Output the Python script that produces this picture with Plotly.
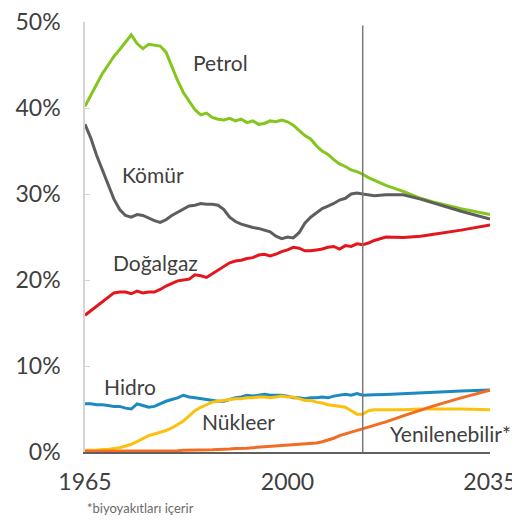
import plotly.graph_objects as go

years = list(range(1965, 2014)) + [2014, 2015, 2017, 2020, 2023, 2025, 2030, 2035]

petrol = [40.2, 41.5, 42.8, 44.0, 45.0, 46.0, 46.8, 47.6, 48.5, 47.5,
          46.9, 47.4, 47.3, 47.2, 46.5, 44.8, 43.2, 41.8, 40.8, 39.8,
          39.2, 39.4, 38.9, 38.7, 38.6, 38.8, 38.5, 38.7, 38.3, 38.5,
          38.1, 38.2, 38.5, 38.4, 38.6, 38.4, 38.0, 37.4, 36.8, 36.4,
          35.6, 35.0, 34.6, 34.0, 33.5, 33.2, 32.8, 32.6, 32.3,
          31.9, 31.6, 31.0, 30.3, 29.5, 29.1, 28.3, 27.6]

komur = [38.1, 36.5, 34.5, 32.8, 31.0, 29.4, 28.2, 27.5, 27.3, 27.6,
         27.5, 27.2, 26.9, 26.7, 27.0, 27.5, 27.9, 28.3, 28.6, 28.7,
         28.9, 28.8, 28.8, 28.7, 28.2, 27.3, 26.8, 26.5, 26.3, 26.1,
         26.0, 25.8, 25.6, 25.1, 24.8, 25.0, 24.9, 25.5, 26.6, 27.3,
         27.8, 28.3, 28.6, 28.9, 29.3, 29.5, 30.0, 30.1, 30.0,
         29.9, 29.8, 29.9, 29.9, 29.4, 29.0, 28.0, 27.1]

dogalgaz = [15.9, 16.4, 17.0, 17.5, 18.0, 18.5, 18.6, 18.6, 18.4, 18.7,
            18.5, 18.6, 18.6, 18.9, 19.3, 19.6, 19.9, 20.0, 20.1, 20.6,
            20.5, 20.3, 20.7, 21.2, 21.6, 22.0, 22.2, 22.3, 22.5, 22.6,
            22.9, 23.0, 22.8, 23.0, 23.3, 23.5, 23.8, 23.7, 23.4, 23.4,
            23.5, 23.6, 23.8, 23.9, 23.6, 24.0, 23.9, 24.2, 24.1,
            24.3, 24.6, 25.0, 24.95, 25.1, 25.3, 25.8, 26.4]

hidro = [5.6, 5.6, 5.5, 5.5, 5.4, 5.3, 5.3, 5.1, 5.0, 5.6,
         5.4, 5.2, 5.3, 5.6, 5.9, 6.1, 6.3, 6.6, 6.4, 6.3,
         6.2, 6.1, 6.0, 5.9, 5.9, 6.1, 6.3, 6.4, 6.6, 6.5,
         6.6, 6.7, 6.6, 6.6, 6.6, 6.5, 6.3, 6.3, 6.2, 6.3,
         6.3, 6.4, 6.3, 6.5, 6.6, 6.7, 6.6, 6.8, 6.6,
         6.6, 6.65, 6.7, 6.8, 6.9, 6.95, 7.1, 7.2]

nukleer = [0.2, 0.2, 0.2, 0.3, 0.3, 0.4, 0.5, 0.7, 0.9, 1.2,
           1.6, 1.9, 2.1, 2.3, 2.5, 2.8, 3.2, 3.6, 4.2, 4.8,
           5.2, 5.5, 5.8, 5.9, 6.0, 6.1, 6.2, 6.2, 6.3, 6.3,
           6.4, 6.4, 6.3, 6.4, 6.5, 6.4, 6.4, 6.2, 6.0, 6.0,
           5.8, 5.7, 5.5, 5.4, 5.3, 5.2, 4.8, 4.4, 4.4,
           4.8, 4.9, 4.9, 4.9, 5.0, 5.0, 5.0, 4.9]

yenilenebilir = [0.1, 0.1, 0.1, 0.1, 0.1, 0.1, 0.1, 0.1, 0.1, 0.1,
                 0.1, 0.1, 0.1, 0.1, 0.1, 0.15, 0.15, 0.2, 0.2, 0.2,
                 0.2, 0.2, 0.25, 0.3, 0.3, 0.35, 0.4, 0.4, 0.45, 0.5,
                 0.55, 0.6, 0.6, 0.65, 0.7, 0.75, 0.8, 0.85, 0.9, 0.95,
                 1.05, 1.2, 1.4, 1.6, 1.9, 2.1, 2.3, 2.5, 2.7,
                 2.9, 3.1, 3.5, 4.2, 4.9, 5.3, 6.3, 7.2]

series_names = ["Petrol", "Kömür", "Doğalgaz", "Hidro", "Nükleer", "Yenilenebilir*"]
series_values = [petrol, komur, dogalgaz, hidro, nukleer, yenilenebilir]
series_colors = ["#84c51e", "#5e5e5e", "#e3161d", "#1d89c1", "#fcc10f", "#f26c22"]

label_x = [1988.5, 1976.8, 1977.1, 1972.8, 1991.6, 2017.4]
label_y = [45.3, 32.3, 22.0, 7.6, 3.5, 2.1]
label_anchor = ["center", "center", "center", "center", "center", "left"]

x_ticks = [1965, 2000, 2035]
y_ticks = [0, 10, 20, 30, 40, 50]
divider_year = 2013

FONT = "Lato, 'Open Sans', sans-serif"
TXT = "#404040"

fig = go.Figure()
for name, vals, col in zip(series_names, series_values, series_colors):
    fig.add_trace(go.Scatter(x=years, y=vals, mode="lines", name=name,
                             line=dict(color=col, width=3), showlegend=False,
                             hoverinfo="skip"))

fig.add_shape(type="line", x0=divider_year, x1=divider_year, y0=0, y1=49.6,
              xref="x", yref="y", line=dict(color="#7a7a7a", width=1.5))

for name, lx, ly, anc in zip(series_names, label_x, label_y, label_anchor):
    fig.add_annotation(x=lx, y=ly, text=name, showarrow=False, xref="x", yref="y",
                       xanchor=anc, yanchor="middle",
                       font=dict(family=FONT, size=21, color=TXT))

fig.add_annotation(x=0, y=-0.13, xref="paper", yref="paper", xanchor="left",
                   yanchor="middle", text="*biyoyakıtları içerir", showarrow=False,
                   font=dict(family=FONT, size=13, color="#6a6a6a"))

fig.update_layout(
    width=520, height=525,
    margin=dict(l=77, r=38, t=14, b=81),
    paper_bgcolor="white", plot_bgcolor="white",
    font=dict(family=FONT, color=TXT),
    xaxis=dict(range=[1965, 2035], tickvals=x_ticks, ticktext=[str(v) for v in x_ticks],
               showgrid=False, zeroline=False, showline=True, linecolor="#606060",
               linewidth=1.5, ticks="", tickfont=dict(family=FONT, size=23, color=TXT),
               ticklabelstandoff=9, automargin=False, ticklabeloverflow="allow"),
    yaxis=dict(range=[0, 50], tickvals=y_ticks, ticktext=[f"{v}%" for v in y_ticks],
               showgrid=False, zeroline=False, showline=True, linecolor="#d4d4d4",
               linewidth=1.5, ticks="inside", ticklen=5, tickcolor="#d4d4d4",
               tickfont=dict(family=FONT, size=23, color=TXT),
               ticklabelstandoff=18, automargin=False, ticklabeloverflow="allow"),
)

fig.write_html("out.html")
